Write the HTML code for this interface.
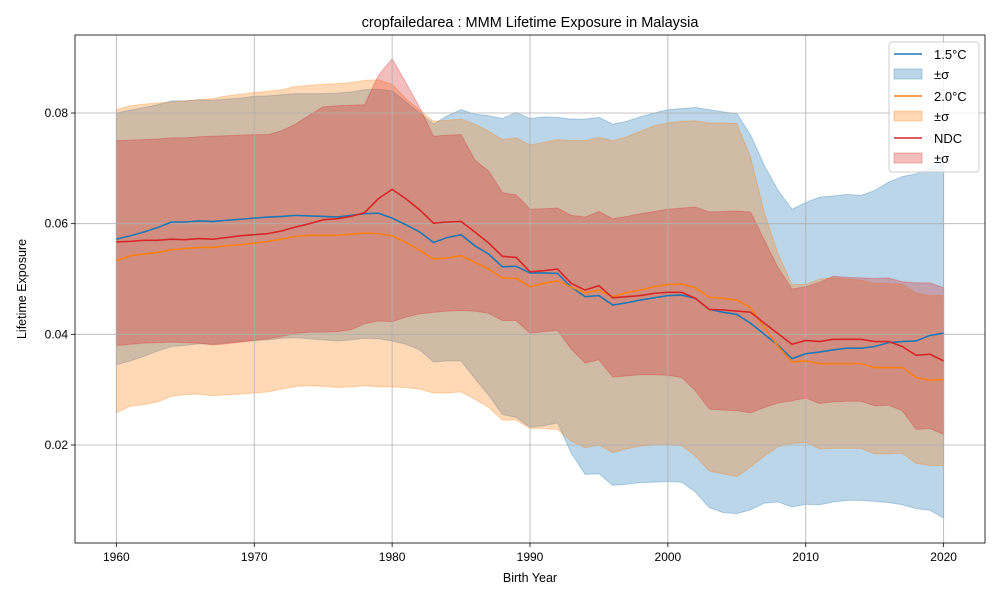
<!DOCTYPE html>
<html><head><meta charset="utf-8"><style>
body{margin:0;background:#fff;}
svg text{font-family:"Liberation Sans","DejaVu Sans",sans-serif;}
</style></head><body>
<svg id="chart" width="1000" height="600" xmlns="http://www.w3.org/2000/svg"></svg>
<script>
const years = Array.from({length:61},(_,i)=>1960+i);
const mean15 = [0.0572,0.0578,0.0585,0.0593,0.0603,0.0603,0.0605,0.0604,0.0606,0.0608,0.061,0.0612,0.0613,0.0615,0.0614,0.0613,0.0612,0.0615,0.0618,0.0619,0.061,0.0598,0.0585,0.0566,0.0575,0.058,0.056,0.0545,0.0522,0.0523,0.0511,0.0511,0.051,0.0485,0.0468,0.047,0.0453,0.0457,0.0462,0.0466,0.047,0.0471,0.0465,0.0445,0.044,0.0436,0.042,0.04,0.038,0.0356,0.0365,0.0368,0.0372,0.0375,0.0375,0.0378,0.0385,0.0387,0.0388,0.0398,0.0402];
const up15 = [0.080,0.0805,0.081,0.0815,0.0822,0.0822,0.0824,0.0823,0.0825,0.0827,0.083,0.0831,0.0833,0.0835,0.0835,0.0835,0.0836,0.0838,0.0842,0.0843,0.084,0.082,0.080,0.078,0.0795,0.0806,0.0798,0.0795,0.079,0.0801,0.079,0.0793,0.0792,0.0789,0.0789,0.0792,0.078,0.0785,0.0793,0.080,0.0806,0.0808,0.081,0.0806,0.0802,0.0799,0.076,0.0705,0.066,0.0626,0.0638,0.0648,0.065,0.0653,0.0651,0.066,0.0675,0.0685,0.069,0.070,0.0715];
const lo15 = [0.0345,0.0352,0.036,0.037,0.0378,0.038,0.0383,0.0382,0.0385,0.0387,0.0389,0.039,0.0393,0.0394,0.0392,0.039,0.0388,0.039,0.0393,0.0392,0.0388,0.0382,0.0372,0.035,0.0352,0.0352,0.032,0.029,0.0255,0.025,0.0232,0.0235,0.024,0.0185,0.0147,0.0148,0.0127,0.0129,0.0132,0.0133,0.0134,0.0133,0.0115,0.0087,0.0078,0.0076,0.0083,0.0095,0.0097,0.0088,0.0093,0.0092,0.0097,0.010,0.010,0.0098,0.0096,0.0092,0.0085,0.0082,0.0068];
const mean20 = [0.0533,0.0542,0.0545,0.0548,0.0553,0.0555,0.0557,0.0557,0.056,0.0562,0.0565,0.0568,0.0572,0.0577,0.0579,0.0579,0.0579,0.0581,0.0583,0.0582,0.0578,0.0566,0.0552,0.0536,0.0538,0.0542,0.053,0.0518,0.0502,0.0501,0.0486,0.0492,0.0497,0.0485,0.0475,0.048,0.0468,0.0475,0.048,0.0486,0.049,0.0491,0.0484,0.0467,0.0465,0.0462,0.0448,0.0412,0.0378,0.035,0.0352,0.0347,0.0347,0.0347,0.0347,0.034,0.034,0.034,0.0322,0.0317,0.0318];
const up20 = [0.0806,0.0813,0.0816,0.0818,0.082,0.0822,0.0824,0.0826,0.0831,0.0834,0.0837,0.0839,0.0842,0.0848,0.085,0.0852,0.0853,0.0855,0.0859,0.086,0.0852,0.0826,0.0805,0.0785,0.0787,0.0789,0.078,0.0767,0.0752,0.0755,0.0742,0.0747,0.0752,0.075,0.075,0.0756,0.075,0.0757,0.0767,0.0777,0.0782,0.0785,0.0786,0.0782,0.0782,0.0781,0.072,0.062,0.0545,0.049,0.049,0.050,0.0502,0.050,0.0498,0.0492,0.0492,0.049,0.0475,0.047,0.047];
const lo20 = [0.0258,0.027,0.0273,0.0278,0.0288,0.0291,0.0292,0.0289,0.0291,0.0292,0.0294,0.0296,0.0301,0.0306,0.0307,0.0306,0.0304,0.0305,0.0307,0.0305,0.0305,0.0304,0.0301,0.0294,0.0294,0.0296,0.0283,0.0268,0.0245,0.0245,0.023,0.023,0.0228,0.0207,0.0195,0.020,0.0186,0.0193,0.0198,0.020,0.020,0.0199,0.018,0.0153,0.0148,0.0143,0.016,0.018,0.0197,0.0203,0.0205,0.0193,0.0194,0.0194,0.0194,0.0184,0.0184,0.0185,0.0167,0.0163,0.0163];
const meanNDC = [0.0567,0.0568,0.057,0.057,0.0572,0.0571,0.0573,0.0572,0.0575,0.0578,0.058,0.0582,0.0587,0.0594,0.060,0.0607,0.0609,0.0613,0.062,0.0645,0.0662,0.0645,0.0625,0.0601,0.0603,0.0604,0.0585,0.0565,0.0541,0.0539,0.0513,0.0515,0.0518,0.0492,0.048,0.0488,0.0466,0.0468,0.047,0.0474,0.0476,0.0476,0.0465,0.0445,0.0444,0.0442,0.044,0.042,0.0401,0.0382,0.0389,0.0387,0.0391,0.0391,0.0391,0.0387,0.0387,0.0378,0.0362,0.0364,0.0352];
const upNDC = [0.075,0.0751,0.0752,0.0753,0.0755,0.0755,0.0757,0.0758,0.0759,0.076,0.0761,0.0761,0.0768,0.078,0.0796,0.0811,0.0813,0.0814,0.0815,0.0868,0.0898,0.0855,0.081,0.0758,0.076,0.0761,0.0715,0.0695,0.0656,0.0652,0.0626,0.0627,0.0628,0.0615,0.0612,0.0622,0.0609,0.0613,0.0618,0.0622,0.0626,0.0628,0.063,0.0621,0.0622,0.0623,0.0621,0.057,0.052,0.0482,0.0486,0.0494,0.0505,0.0503,0.0502,0.0501,0.0502,0.0495,0.0493,0.0493,0.0484];
const loNDC = [0.038,0.0382,0.0384,0.0385,0.0386,0.0385,0.0384,0.0381,0.0383,0.0386,0.0389,0.0392,0.0396,0.0402,0.0404,0.0404,0.0405,0.0408,0.0419,0.0424,0.0423,0.0431,0.0437,0.044,0.0442,0.0443,0.0442,0.0438,0.0425,0.0425,0.0402,0.0405,0.0407,0.0373,0.0348,0.0354,0.0323,0.0325,0.0327,0.0327,0.0326,0.0322,0.0298,0.0265,0.0263,0.0262,0.0258,0.0268,0.0276,0.028,0.0285,0.0275,0.0278,0.0279,0.0279,0.0271,0.0272,0.0262,0.0228,0.023,0.0219];
const xTicks = [1960,1970,1980,1990,2000,2010,2020];
const yTicks = [0.02,0.04,0.06,0.08];

const L=75,R=985,T=35,B=543;
const X0=1957,X1=2023;
const Y0=0.02-(B-445)/5533, Y1=0.08+(113-T)/5533;
const sx=v=>L+(v-X0)/(X1-X0)*(R-L);
const sy=v=>B-(v-Y0)/(Y1-Y0)*(B-T);
const svg=document.getElementById('chart');
const NS='http://www.w3.org/2000/svg';
function mk(tag,attrs,parent){const e=document.createElementNS(NS,tag);for(const k in attrs)e.setAttribute(k,attrs[k]);(parent||svg).appendChild(e);return e;}

function band(lo,up,color,name){
  let d='M'+years.map((y,i)=>sx(y)+','+sy(up[i])).join('L');
  d+='L'+years.slice().reverse().map((y,j)=>{const i=years.length-1-j;return sx(y)+','+sy(lo[i]);}).join('L')+'Z';
  const p=mk('path',{d:d,fill:color,'fill-opacity':0.3,stroke:color,'stroke-opacity':0.3,'stroke-width':1});
  
  
}
function line(vals,color,name){
  const p=mk('polyline',{points:years.map((y,i)=>sx(y)+','+sy(vals[i])).join(' '),fill:'none',stroke:color,'stroke-width':1.6});
  
  
}
band(lo15,up15,'#1f77b4','band-1-5c');
band(lo20,up20,'#ff7f0e','band-2-0c');
band(loNDC,upNDC,'#d62728','band-ndc');

// grid (above patches, below lines)
xTicks.forEach(t=>{
  const g=mk('line',{x1:sx(t),x2:sx(t),y1:T,y2:B,stroke:'#b0b0b0','stroke-width':0.8});
  
  
});
yTicks.forEach(t=>{
  const g=mk('line',{x1:L,x2:R,y1:sy(t),y2:sy(t),stroke:'#b0b0b0','stroke-width':0.8});
  
  
});

line(mean15,'#1f77b4','line-1-5c');
line(mean20,'#ff7f0e','line-2-0c');
line(meanNDC,'#d62728','line-ndc');

const fr=mk('rect',{x:L,y:T,width:R-L,height:B-T,fill:'none',stroke:'#000','stroke-width':0.8});



xTicks.forEach(t=>{
  mk('line',{x1:sx(t),x2:sx(t),y1:B,y2:B+4,stroke:'#000','stroke-width':0.8});
  const tx=mk('text',{x:sx(t),y:B+18,'text-anchor':'middle','font-size':12});
  tx.textContent=t;
  
  
});
yTicks.forEach(t=>{
  mk('line',{x1:L-4,x2:L,y1:sy(t),y2:sy(t),stroke:'#000','stroke-width':0.8});
  const tx=mk('text',{x:L-7,y:sy(t)+4,'text-anchor':'end','font-size':12});
  tx.textContent=t.toFixed(2);
  
  
});
</script>
<svg style="position:absolute;left:0;top:0" width="1000" height="600" xmlns="http://www.w3.org/2000/svg">
<text x="530" y="27" text-anchor="middle" font-size="14.5">cropfailedarea : MMM Lifetime Exposure in Malaysia</text>
<text x="530" y="582" text-anchor="middle" font-size="12.5">Birth Year</text>
<text transform="translate(26,289) rotate(-90)" text-anchor="middle" font-size="12.5">Lifetime Exposure</text>
<g>
<rect x="889" y="42" width="90" height="130" rx="3" fill="#fff" fill-opacity="0.8" stroke="#ccc"/>
<g><line x1="894" x2="922" y1="54" y2="54" stroke="#1f77b4" stroke-width="1.6"/><text x="934" y="59" font-size="13">1.5°C</text></g>
<g><rect x="894" y="69" width="28" height="10" fill="#1f77b4" fill-opacity="0.3" stroke="#1f77b4" stroke-opacity="0.3"/><text x="934" y="79" font-size="13">±σ</text></g>
<g><line x1="894" x2="922" y1="96" y2="96" stroke="#ff7f0e" stroke-width="1.6"/><text x="934" y="101" font-size="13">2.0°C</text></g>
<g><rect x="894" y="111" width="28" height="10" fill="#ff7f0e" fill-opacity="0.3" stroke="#ff7f0e" stroke-opacity="0.3"/><text x="934" y="121" font-size="13">±σ</text></g>
<g><line x1="894" x2="922" y1="138" y2="138" stroke="#d62728" stroke-width="1.6"/><text x="934" y="143" font-size="13">NDC</text></g>
<g><rect x="894" y="153" width="28" height="10" fill="#d62728" fill-opacity="0.3" stroke="#d62728" stroke-opacity="0.3"/><text x="934" y="163" font-size="13">±σ</text></g>
</g>
</svg>
</body></html>
